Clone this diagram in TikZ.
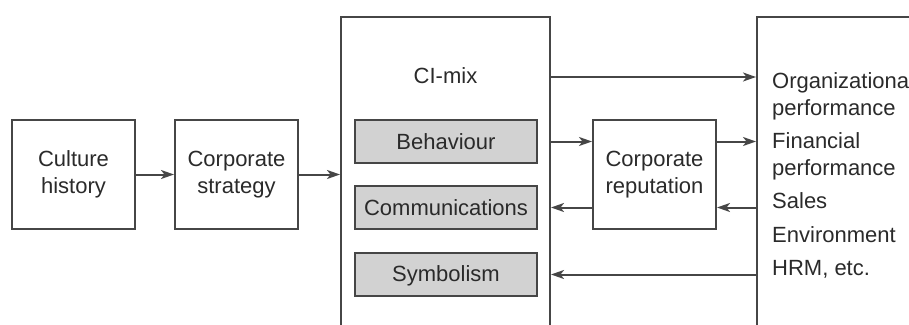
\documentclass[tikz,border=0pt]{standalone}
\usepackage{fontspec}
\setmainfont{Liberation Sans}
\usetikzlibrary{arrows.meta}
\definecolor{linec}{HTML}{464646}
\definecolor{textc}{HTML}{2A2A2A}
\definecolor{fillc}{HTML}{D2D2D2}
\tikzset{
  box/.style={draw=linec, line width=2pt, rectangle, inner sep=0pt, align=center,
    text=textc, font=\fontsize{22}{27}\selectfont},
  graybox/.style={box, fill=fillc},
  txt/.style={inner sep=0pt, anchor=base west, text=textc, font=\fontsize{22}{27}\selectfont},
  arr/.style={draw=linec, line width=2pt, -{Stealth[length=13pt,width=9pt,inset=3.5pt]}}
}
\begin{document}
\begin{tikzpicture}[x=1pt,y=-1pt]
\useasboundingbox (0,0) rectangle (909,324);
\clip (0,0) rectangle (909,324);
% main boxes
\node[box, minimum width=123pt, minimum height=109pt] (culture) at (73.5,174.5) {Culture\\history};
\node[box, minimum width=123pt, minimum height=109pt] (strategy) at (236.5,174.5) {Corporate\\strategy};
\node[box, minimum width=209pt, minimum height=330pt] (cimix) at (445.5,182) {};
\node[txt, anchor=base] (cilabel) at (445.5,83) {CI-mix};
\node[graybox, minimum width=182pt, minimum height=43pt] (behav) at (446,141.5) {};
\node[txt, anchor=base] (behavt) at (446,149) {Behaviour};
\node[graybox, minimum width=182pt, minimum height=43pt] (comm) at (446,207.5) {};
\node[txt, anchor=base] (commt) at (446,215) {Communications};
\node[graybox, minimum width=182pt, minimum height=43pt] (symb) at (446,274.5) {};
\node[txt, anchor=base] (symbt) at (446,281) {Symbolism};
\node[box, minimum width=123pt, minimum height=109pt] (rep) at (654.5,174.5) {Corporate\\reputation};
\node[box, minimum width=180pt, minimum height=330pt] (outcomes) at (847,182) {};
% outcome texts
\node[txt] (o1) at (772,88) {Organizational};
\node[txt] (o2) at (772,115) {performance};
\node[txt] (o3) at (772,148) {Financial};
\node[txt] (o4) at (772,175) {performance};
\node[txt] (o5) at (772,208) {Sales};
\node[txt] (o6) at (772,242) {Environment};
\node[txt] (o7) at (772,275) {HRM, etc.};
\coordinate (toplevel) at (0,77);
% connectors
\draw[arr] (culture.east) -- (strategy.west);
\draw[arr] (strategy.east) -- (strategy.east -| cimix.west);
\draw[arr] (cimix.east |- toplevel) -- (outcomes.west |- toplevel);
\draw[arr] (cimix.east |- behav) -- (rep.west |- behav);
\draw[arr] (rep.east |- behav) -- (outcomes.west |- behav);
\draw[arr] (outcomes.west |- comm) -- (rep.east |- comm);
\draw[arr] (rep.west |- comm) -- (cimix.east |- comm);
\draw[arr] (outcomes.west |- symb) -- (cimix.east |- symb);
\end{tikzpicture}
\end{document}
